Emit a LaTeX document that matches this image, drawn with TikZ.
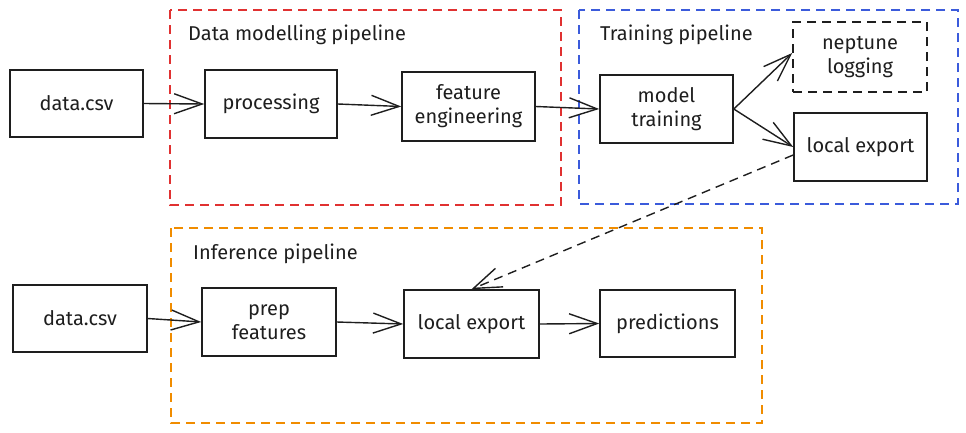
\documentclass[tikz,border=0pt]{standalone}
\usepackage{fontspec}
\setmainfont{Fira Sans}
\usetikzlibrary{arrows.meta,calc}
\definecolor{ink}{HTML}{1E1E1E}
\definecolor{exred}{HTML}{E03131}
\definecolor{exblue}{HTML}{3B5BDB}
\definecolor{exorange}{HTML}{F08C00}
\tikzset{
  box/.style={draw=ink, line width=1.6pt, inner sep=0pt, align=center,
    font=\fontsize{20}{24}\selectfont, text=ink},
  dbox/.style={box, dashed, dash pattern=on 9pt off 6pt},
  group/.style={line width=1.3pt, dash pattern=on 9pt off 6pt},
  glabel/.style={anchor=west, inner sep=0pt, font=\fontsize{20}{23}\selectfont, text=ink},
  arr/.style={draw=ink, line width=1.4pt, -{Straight Barb[length=28pt, width=20pt, line width=1.4pt]}},
  darr/.style={arr, dash pattern=on 9pt off 6pt}
}
\begin{document}
\begin{tikzpicture}[x=1pt,y=-1pt]
\useasboundingbox (0,0) rectangle (966,432);
% group frames
\draw[group, exred] (170,10) rectangle (561,205);
\draw[group, exblue] (579,10) rectangle (958,204);
\draw[group, exorange] (171,228) rectangle (762,423);
\node[glabel] (gl1) at (188,35) {Data modelling pipeline};
\node[glabel] (gl2) at (600,35) {Training pipeline};
\node[glabel] (gl3) at (193,254) {Inference pipeline};
% top row
\node[box, minimum width=133pt, minimum height=67pt] (d1) at (76.5,103.5) {data.csv};
\node[box, minimum width=132pt, minimum height=68pt] (proc) at (271,104) {processing};
\node[box, minimum width=133pt, minimum height=69pt] (feat) at (468.5,106.5) {feature\\engineering};
\node[box, minimum width=133pt, minimum height=68pt] (mt) at (666.5,109) {model\\training};
\node[dbox, minimum width=134pt, minimum height=70pt] (nep) at (860,57) {neptune\\logging};
\node[box, minimum width=133pt, minimum height=68pt] (le1) at (860.5,147) {local export};
% bottom row
\node[box, minimum width=134pt, minimum height=67pt] (d2) at (80,318.5) {data.csv};
\node[box, minimum width=134pt, minimum height=68pt] (prep) at (269,322) {prep\\features};
\node[box, minimum width=135pt, minimum height=68pt] (le2) at (471.5,324) {local export};
\node[box, minimum width=135pt, minimum height=67pt] (pred) at (667.5,323.5) {predictions};
% connectors
\draw[arr] (d1.east) -- (proc.west);
\draw[arr] (proc.east) -- (feat.west);
\draw[arr] (feat.east) -- (mt.west);
\draw[arr] (mt.east) -- ($(nep.west)+(0,-4)$);
\draw[arr] (mt.east) -- (le1.west);
\draw[darr] ($(le1.west)+(0,8)$) -- (le2.north);
\draw[arr] (d2.east) -- (prep.west);
\draw[arr] (prep.east) -- (le2.west);
\draw[arr] (le2.east) -- (pred.west);
\end{tikzpicture}
\end{document}
